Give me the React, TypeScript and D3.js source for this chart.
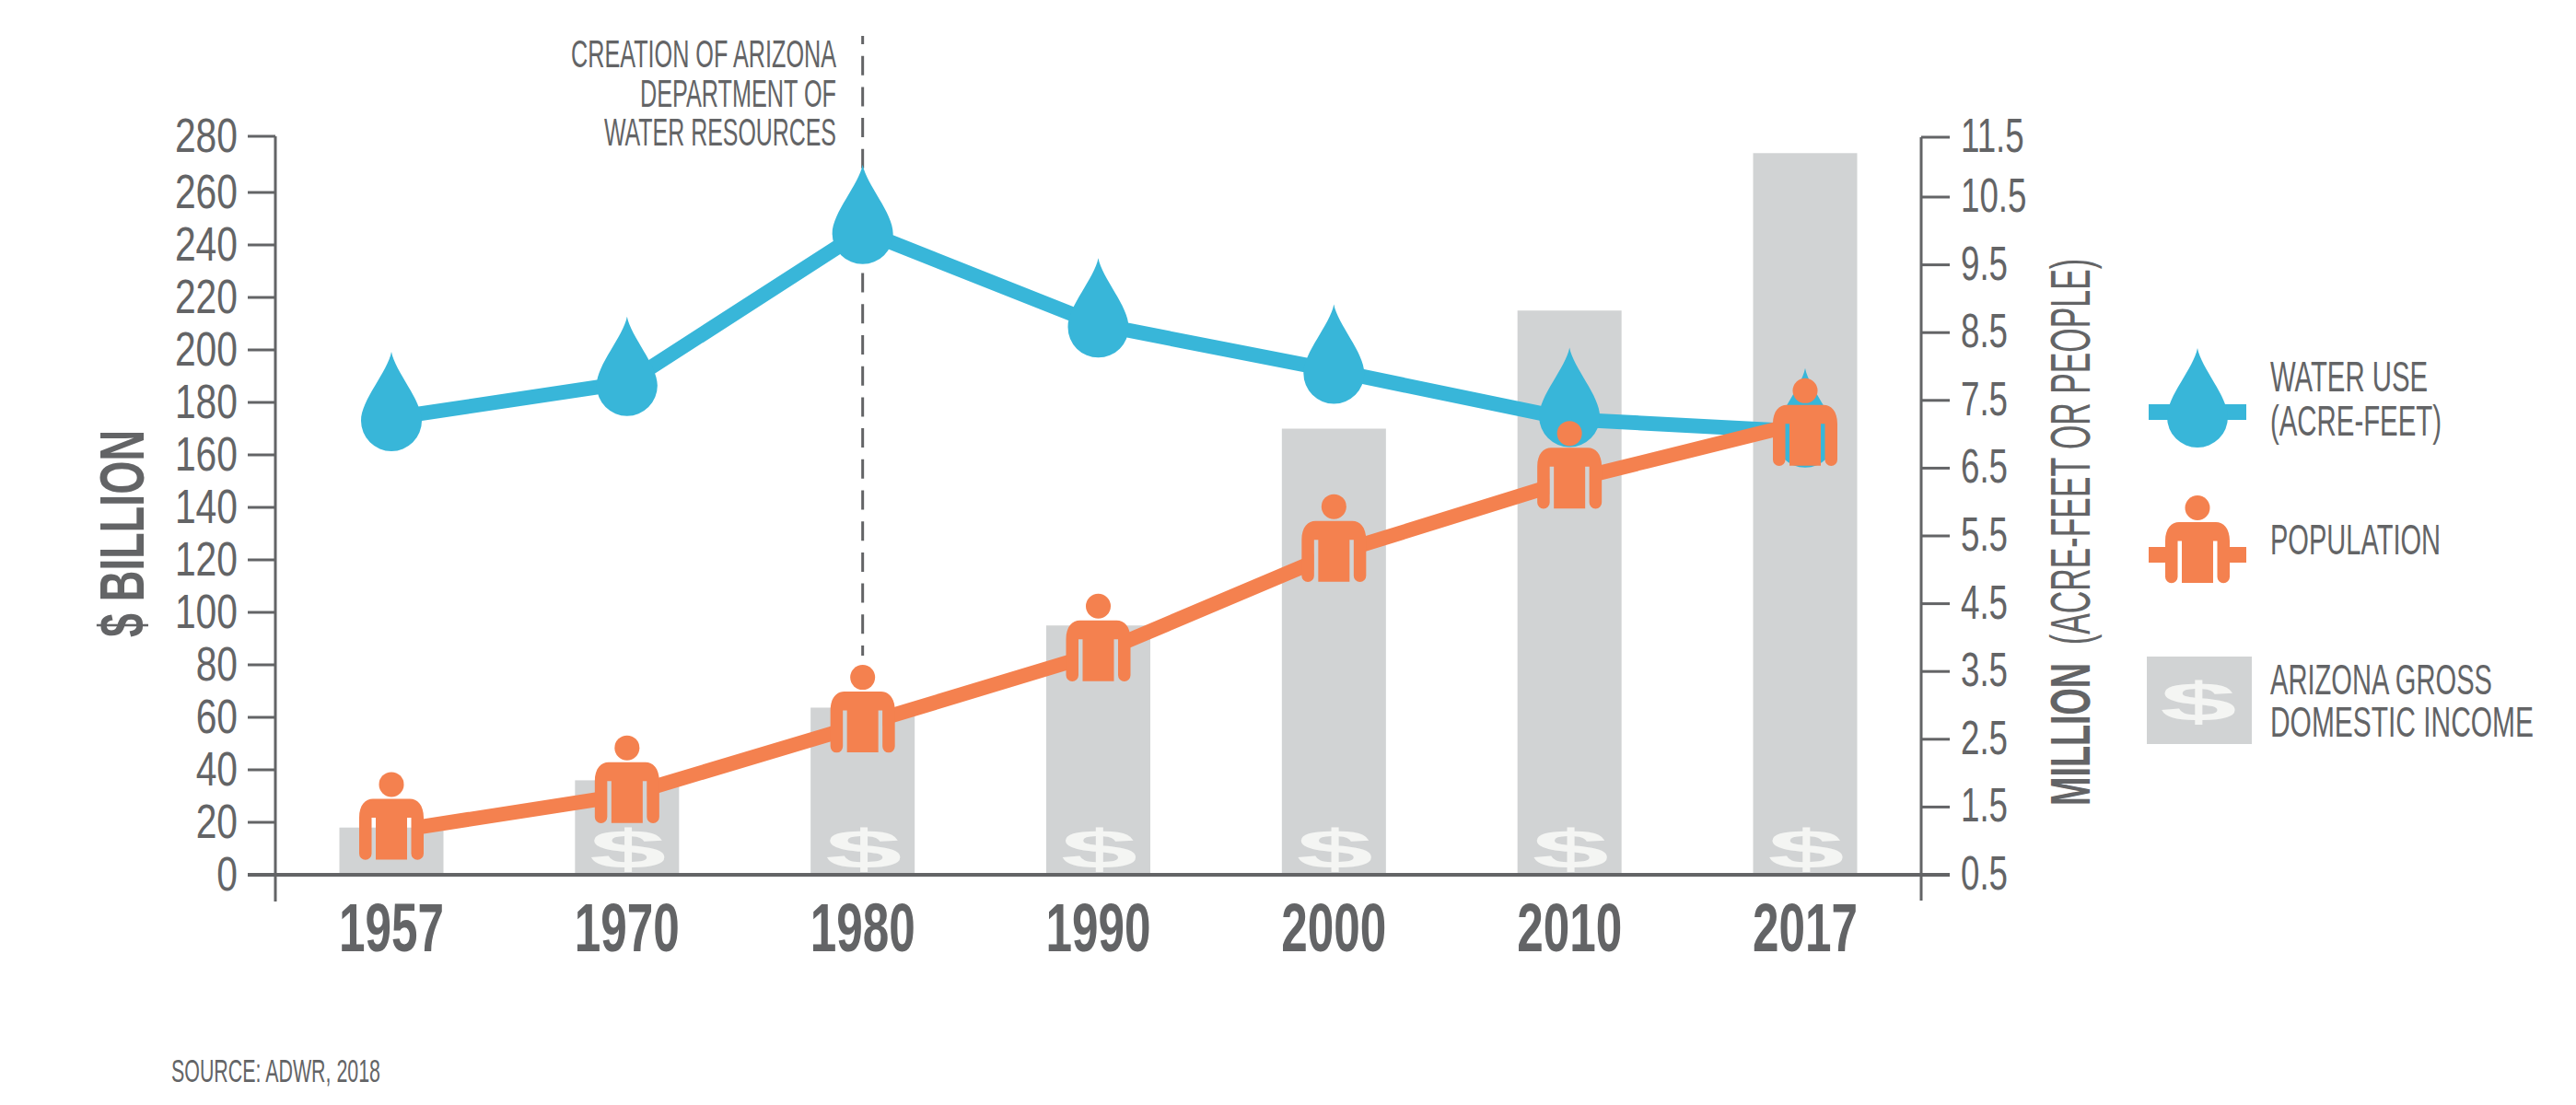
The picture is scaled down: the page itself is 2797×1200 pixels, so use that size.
import React from "react";
import * as d3 from "d3";

const years = ["1957", "1970", "1980", "1990", "2000", "2010", "2017"];
const income = [18, 36, 63.7, 95, 170, 215, 274];
const waterUse = [7.24, 7.76, 10.0, 8.62, 7.94, 7.22, 7.04];
const population = [1.14, 1.68, 2.72, 3.77, 5.24, 6.32, 7.18];
const leftTicks = [0, 20, 40, 60, 80, 100, 120, 140, 160, 180, 200, 220, 240, 260, 280];
const rightTicks = [0.5, 1.5, 2.5, 3.5, 4.5, 5.5, 6.5, 7.5, 8.5, 9.5, 10.5, 11.5];
const annotationLines = ["CREATION OF ARIZONA", "DEPARTMENT OF", "WATER RESOURCES"];

const GREY = "#636466";
const BLUE = "#38b6d9";
const ORANGE = "#f4814f";
const BAR = "#d1d3d4";
const DOLLAR = "#f4f5f3";
const NARROW = "'Liberation Sans Narrow', 'Liberation Sans', sans-serif";

const W = 2797, H = 1200;
const x = d3.scalePoint<string>().domain(years).range([425, 1960]);
const yLeft = d3.scaleLinear().domain([0, 260, 280]).range([950, 209, 148]);
const yRight = d3.scaleLinear().domain([0.5, 10.5, 11.5]).range([950, 214, 149]);
const BAR_W = 113;

const DROP = "M0,-72 C4,-50 33,-20 33,3 A33,33 0 0 1 -33,3 C-33,-20 -4,-50 0,-72 Z";
const BODY =
  "M-35,-15 C-35,-29 -28,-35.5 -20,-35.5 L20,-35.5 C28,-35.5 35,-29 35,-15 L35,24 A6.75,6.75 0 0 1 21.5,24 L21.5,-15 L17,-15 L17,30.5 L-17,30.5 L-17,-15 L-21.5,-15 L-21.5,24 A6.75,6.75 0 0 1 -35,24 Z";

const lineFn = (scaleY: (v: number) => number) =>
  d3.line<number>().x((_, i) => x(years[i]) as number).y((v) => scaleY(v));

// in the original a few icons do not sit exactly on the vertex of their line
const iconShift = (i: number) => (i === years.length - 1 ? 17 : 0);
const dropShift = (i: number) => (i === 5 ? -6 : i === 6 ? 3 : 0);

function Person({ cx, cy }: { cx: number; cy: number }) {
  return (
    <g transform={`translate(${cx},${cy})`} fill={ORANGE}>
      <ellipse cx={0} cy={-51} rx={13.5} ry={13.5} />
      <path d={BODY} />
    </g>
  );
}

function Dollar({ cx, base }: { cx: number; base: number }) {
  return (
    <text
      transform={`translate(${cx},${base}) scale(2.5,1)`}
      textAnchor="middle"
      fontFamily="'Liberation Sans', sans-serif"
      fontWeight={700}
      fontSize={60}
      fill={DOLLAR}
    >
      $
    </text>
  );
}

function Fit({ x: tx, y, w, size, anchor = "start", bold = false, rotate = false, children }: any) {
  return (
    <text
      transform={`translate(${tx},${y})${rotate ? " rotate(-90)" : ""}`}
      textAnchor={anchor}
      fontFamily={NARROW}
      fontWeight={bold ? 700 : 400}
      fontSize={size}
      fill={GREY}
      textLength={w}
      lengthAdjust="spacingAndGlyphs"
    >
      {children}
    </text>
  );
}

export default function App() {
  const annX = x("1980") as number;
  const annBase = [73, 116, 158];
  const annW = [288, 213, 252];
  return (
    <svg width={W} height={H} style={{ position: "absolute", left: 0, top: 0, display: "block", background: "#fff" }}>
      <defs>
        <mask id="popMask" maskUnits="userSpaceOnUse" x={0} y={0} width={W} height={H}>
          <rect x={0} y={0} width={W} height={H} fill="#fff" />
          {population.map((v, i) => (
            <rect key={i} x={(x(years[i]) as number) - 22} y={yRight(v) - 30} width={44} height={70} fill="#000" />
          ))}
        </mask>
      </defs>

      {/* bars */}
      {income.map((v, i) => {
        const cx = x(years[i]) as number;
        return (
          <g key={years[i]}>
            <rect x={cx - BAR_W / 2} y={yLeft(v)} width={BAR_W} height={950 - yLeft(v)} fill={BAR} />
            {950 - yLeft(v) > 55 && <Dollar cx={cx + 1} base={943} />}
          </g>
        );
      })}

      {/* annotation dashed line */}
      <line x1={annX} x2={annX} y1={39} y2={712} stroke={GREY} strokeWidth={3} strokeDasharray="21 12.7" strokeDashoffset={12} />
      {annotationLines.map((t, i) => (
        <Fit key={t} x={908} y={annBase[i]} w={annW[i]} size={42} anchor="end">
          {t}
        </Fit>
      ))}

      {/* axes */}
      <line x1={299} x2={299} y1={yLeft(280)} y2={979} stroke={GREY} strokeWidth={3} />
      <line x1={2086} x2={2086} y1={yRight(11.5)} y2={978} stroke={GREY} strokeWidth={3} />
      <line x1={269} x2={2117} y1={950} y2={950} stroke={GREY} strokeWidth={4} />
      {leftTicks.map((t) => (
        <g key={t}>
          <line x1={269} x2={299} y1={yLeft(t)} y2={yLeft(t)} stroke={GREY} strokeWidth={3} />
          <text
            transform={`translate(258,${yLeft(t) + 17}) scale(0.8,1)`}
            textAnchor="end"
            fontFamily={NARROW}
            fontSize={51}
            fill={GREY}
          >
            {t}
          </text>
        </g>
      ))}
      {rightTicks.map((t) => (
        <g key={t}>
          <line x1={2086} x2={2117} y1={yRight(t)} y2={yRight(t)} stroke={GREY} strokeWidth={3} />
          <text
            transform={`translate(2129,${yRight(t) + 16}) scale(0.72,1)`}
            fontFamily={NARROW}
            fontSize={51}
            fill={GREY}
          >
            {t.toFixed(1)}
          </text>
        </g>
      ))}

      {/* year labels */}
      {years.map((y) => (
        <Fit key={y} x={x(y)} y={1033} w={114} size={75} anchor="middle" bold>
          {y}
        </Fit>
      ))}

      {/* axis titles */}
      <Fit x={156} y={692} w={225} size={68} bold rotate>
        $ BILLION
      </Fit>
      <Fit x={2269} y={875} w={155} size={61} bold rotate>
        MILLION
      </Fit>
      <Fit x={2269} y={700} w={419} size={61} rotate>
        (ACRE-FEET OR PEOPLE)
      </Fit>

      {/* water series */}
      <path d={lineFn(yRight)(waterUse) as string} fill="none" stroke={BLUE} strokeWidth={16} />
      {waterUse.map((v, i) => (
        <path key={i} d={DROP} fill={BLUE} transform={`translate(${x(years[i])},${yRight(v) + dropShift(i)})`} />
      ))}

      {/* population series */}
      <path d={lineFn(yRight)(population) as string} fill="none" stroke={ORANGE} strokeWidth={16} mask="url(#popMask)" />
      {population.map((v, i) => (
        <Person key={i} cx={x(years[i]) as number} cy={yRight(v) + iconShift(i)} />
      ))}

      {/* legend */}
      <rect x={2333} y={439} width={106} height={17} fill={BLUE} />
      <path d={DROP} fill={BLUE} transform="translate(2386,450)" />
      <Fit x={2465} y={425} w={171} size={47}>WATER USE</Fit>
      <Fit x={2465} y={473} w={186} size={47}>(ACRE-FEET)</Fit>

      <rect x={2333} y={594} width={19} height={17} fill={ORANGE} />
      <rect x={2420} y={594} width={19} height={17} fill={ORANGE} />
      <Person cx={2386} cy={602.5} />
      <Fit x={2465} y={602} w={185} size={47}>POPULATION</Fit>

      <rect x={2331} y={713} width={114} height={95} fill={BAR} />
      <Dollar cx={2387} base={783} />
      <Fit x={2465} y={754} w={241} size={47}>ARIZONA GROSS</Fit>
      <Fit x={2465} y={800} w={286} size={47}>DOMESTIC INCOME</Fit>

      <Fit x={186} y={1175} w={227} size={35}>SOURCE: ADWR, 2018</Fit>
    </svg>
  );
}
